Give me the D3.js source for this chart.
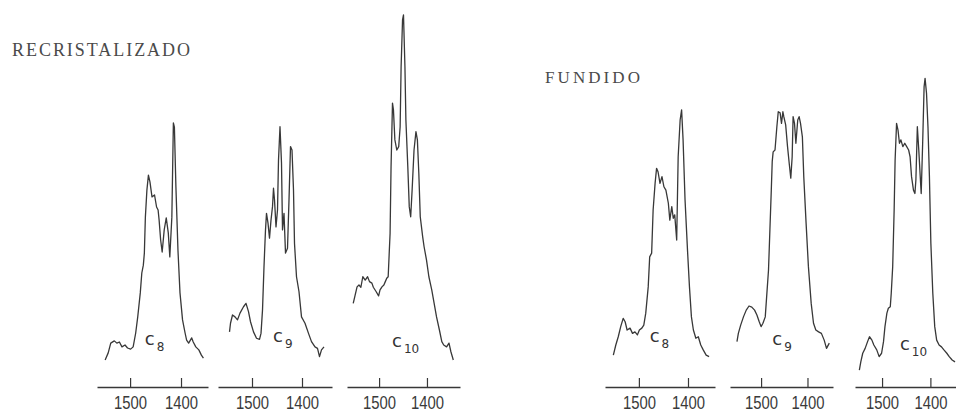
<!DOCTYPE html>
<html>
<head>
<meta charset="utf-8">
<script src="https://cdn.jsdelivr.net/npm/d3@7"></script>
<style>
  body { margin: 0; background: #fff; }
</style>
</head>
<body>
<div id="chart"></div>
<script>
// IR spectra, wavenumber (cm-1) vs relative intensity
var titles = ["RECRISTALIZADO", "FUNDIDO"]
var ticks  = [1500, 1400]

var recC8 = [[1549,8],[1543,9.9],[1538,12.5],[1531,13.1],[1526,12.5],[1521,12.8],[1516,11.5],[1510,12],
  [1505,11.2],[1499,10.9],[1494,11.5],[1489,15.2],[1485,19.5],[1480,25.9],[1477,31.2],[1474,33.3],
  [1472,36.5],[1470,46.1],[1467,53.3],[1464,57.3],[1461,55.5],[1457,51.5],[1452,52],[1448,48.8],
  [1445,48],[1443,45.3],[1440,40],[1437,36.8],[1433,42.7],[1429,45.9],[1425,41.9],[1422,35.5],
  [1418,46.1],[1415,71.2],[1413,70.1],[1410,54.1],[1406,37.3],[1402,25.9],[1397,18.7],[1392,15.2],
  [1389,13.3],[1385,12.5],[1379,13.9],[1376,12.8],[1371,11.5],[1365,10.7],[1360,9.3],[1356,8.5]]

var recC9 = [[1545,15.5],[1543,17.8],[1539,20],[1534,19.5],[1529,18.7],[1524,20.5],[1517,22.2],[1512,23.1],
  [1507,20.9],[1503,18.2],[1497,15.5],[1491,13.8],[1485,13.5],[1482,15.1],[1479,21.3],[1476,32.9],
  [1473,42.7],[1471,47.1],[1468,44.5],[1465,40.5],[1462,45.3],[1459,48.9],[1457,53.8],[1455,50.7],
  [1452,43.5],[1449,48],[1447,61.3],[1444,70.2],[1441,60.5],[1439,42.7],[1436,47.1],[1433,36.5],
  [1429,37.8],[1426,50.7],[1423,64.9],[1420,64],[1417,53.3],[1415,39.1],[1411,30.2],[1406,26.2],
  [1401,19.5],[1394,17.8],[1387,15.1],[1381,12.9],[1374,11.5],[1369,11.1],[1365,8.9],[1361,10.7],[1356,11.5]]

var recC10 = [[1554,23.1],[1550,25.3],[1546,27.5],[1542,28],[1538,27.4],[1534,30.2],[1529,29.3],[1524,30.2],
  [1520,28.9],[1515,28.5],[1512,27.4],[1506,26.2],[1501,25.1],[1498,26.7],[1494,27.5],[1490,28],
  [1487,28.9],[1484,29.8],[1481,30.2],[1477,41.8],[1475,59.5],[1472,76.5],[1470,74.7],[1467,66.7],
  [1463,64],[1459,64.9],[1456,70.2],[1454,86.2],[1451,98.7],[1449,100],[1446,86.2],[1444,72],
  [1440,59.5],[1437,48.9],[1434,46.2],[1431,53.3],[1427,64],[1423,68.9],[1420,66.7],[1417,57.8],
  [1414,46.2],[1409,40.9],[1406,38.2],[1401,34.7],[1396,30.2],[1390,26.7],[1385,23.1],[1380,19.5],
  [1374,16],[1369,12.9],[1365,12],[1359,11.5],[1354,12.5],[1350,10.2],[1345,8]]

var funC8 = [[1552,9.3],[1547,12],[1542,14.2],[1537,16.9],[1532,19.1],[1528,18.2],[1524,16],[1518,16.5],
  [1513,15.1],[1508,15.5],[1503,14.7],[1499,16],[1494,16.5],[1490,17.3],[1486,20.5],[1481,27.5],
  [1478,35.5],[1474,36.5],[1471,48],[1467,55.1],[1464,59.1],[1461,58.2],[1457,55.1],[1453,56.9],
  [1449,54.2],[1445,53.3],[1440,49.8],[1437,45.3],[1433,48.9],[1430,45.8],[1427,46.7],[1423,40],
  [1420,62.2],[1416,72],[1413,74.7],[1410,66.7],[1406,50.7],[1401,37.3],[1397,27.5],[1393,19.5],
  [1389,16],[1384,13.8],[1379,14.2],[1374,12],[1369,10.7],[1363,9.3],[1357,8.9]]

var funC9 = [[1552,12.9],[1549,15.1],[1544,17.3],[1538,19.5],[1532,21.3],[1526,22.4],[1520,22.1],[1514,21.3],
  [1509,20],[1504,18.2],[1500,16.9],[1496,17.8],[1491,19.5],[1488,24.9],[1484,32],[1481,42.7],
  [1478,53.3],[1476,60.9],[1474,63.5],[1470,64],[1466,70.2],[1463,74.2],[1459,73.9],[1456,71.1],
  [1453,74.2],[1451,72.9],[1447,70.7],[1443,64.9],[1439,60],[1436,56.5],[1433,62.2],[1431,72.9],
  [1428,71.1],[1425,65.8],[1421,72],[1418,72.9],[1415,71.1],[1411,67.5],[1408,56.9],[1403,44.5],
  [1398,32.9],[1392,23.1],[1387,17.8],[1382,16],[1376,15.5],[1370,15.1],[1364,13.3],[1359,11.1],[1353,12.5]]

var funC10 = [[1547,5.3],[1544,7.5],[1540,9.8],[1535,11.1],[1530,12.9],[1526,14.2],[1521,13.3],[1517,12],
  [1511,10.7],[1506,8.9],[1501,9.8],[1497,12.9],[1494,16.9],[1490,20.5],[1487,21.8],[1483,22.2],
  [1481,25.8],[1478,32.9],[1475,48],[1473,61.3],[1470,71.1],[1467,69.3],[1464,65.8],[1461,66.7],
  [1457,64.9],[1453,65.8],[1449,64.9],[1445,64],[1442,62.2],[1439,56.9],[1435,53.3],[1432,52.4],
  [1430,56],[1427,70.2],[1424,64],[1421,56.9],[1419,52.4],[1416,65.8],[1413,80.9],[1411,83.1],
  [1408,79.1],[1405,70.2],[1402,56.9],[1399,39.1],[1395,25.8],[1391,16.9],[1387,13.3],[1382,12],
  [1377,11.5],[1372,10.7],[1366,9.8],[1361,8.9],[1355,8],[1349,7.5]]

// layout of the six small plots
var panels = [
  { data: recC8,  sub: "8",  range: [97, 208],  domain: [1565, 1347], lab: [1471, 12] },
  { data: recC9,  sub: "9",  range: [218, 332], domain: [1568, 1340], lab: [1458, 12.8] },
  { data: recC10, sub: "10", range: [347, 460], domain: [1567, 1331], lab: [1473, 11.5] },
  { data: funC8,  sub: "8",  range: [605, 715], domain: [1569, 1345], lab: [1478, 12.8] },
  { data: funC9,  sub: "9",  range: [730, 833], domain: [1567, 1345], lab: [1476, 12] },
  { data: funC10, sub: "10", range: [855, 956], domain: [1556, 1347], lab: [1463, 10.7] }
]

var width = 956, height = 414, axisY = 387
var ink = "#383838"

var svg = d3.select("#chart").append("svg")
  .attr("width", width)
  .attr("height", height)

var y = d3.scaleLinear().domain([0, 100]).range([390, 15])

panels.forEach(function (p) {
  var x = d3.scaleLinear().domain(p.domain).range(p.range)

  var ax = svg.append("g")
    .attr("transform", "translate(0," + axisY + ")")
    .call(d3.axisBottom(x)
      .tickValues(ticks)
      .tickSizeInner(-9)
      .tickSizeOuter(0)
      .tickPadding(9)
      .tickFormat(d3.format("d")))
  ax.attr("font-size", null).attr("font-family", null)
  ax.select(".domain").attr("stroke", ink).attr("stroke-width", 1.4)
  ax.selectAll(".tick line").attr("stroke", ink).attr("stroke-width", 1.2)
  ax.selectAll(".tick text")
    .attr("fill", "#3a3a3a")
    .style("font-family", "'Liberation Sans Narrow', 'Liberation Sans', sans-serif")
    .style("font-size", "18px")
    .attr("textLength", 33)
    .attr("lengthAdjust", "spacingAndGlyphs")

  var line = d3.line()
    .x(d => x(d[0]))
    .y(d => y(d[1]))

  svg.append("path")
    .datum(p.data)
    .attr("fill", "none")
    .attr("stroke", ink)
    .attr("stroke-width", 1.3)
    .attr("stroke-linejoin", "round")
    .attr("d", line)

  var t = svg.append("text")
    .attr("x", x(p.lab[0]))
    .attr("y", y(p.lab[1]))
    .attr("fill", "#333")
    .style("font-family", "'DejaVu Sans', sans-serif")
    .style("font-size", "18px")
    .text("c")
  t.append("tspan")
    .attr("dx", 2)
    .attr("dy", 6)
    .style("font-size", "12px")
    .text(p.sub)
})

svg.append("text")
  .attr("x", 12)
  .attr("y", 56)
  .attr("fill", "#4a4a4a")
  .attr("textLength", 178)
  .style("font-family", "'Liberation Serif', serif")
  .style("font-size", "18px")
  .text(titles[0])

svg.append("text")
  .attr("x", 545)
  .attr("y", 83)
  .attr("fill", "#4a4a4a")
  .attr("textLength", 95)
  .style("font-family", "'Liberation Serif', serif")
  .style("font-size", "17px")
  .text(titles[1])
</script>
</body>
</html>
